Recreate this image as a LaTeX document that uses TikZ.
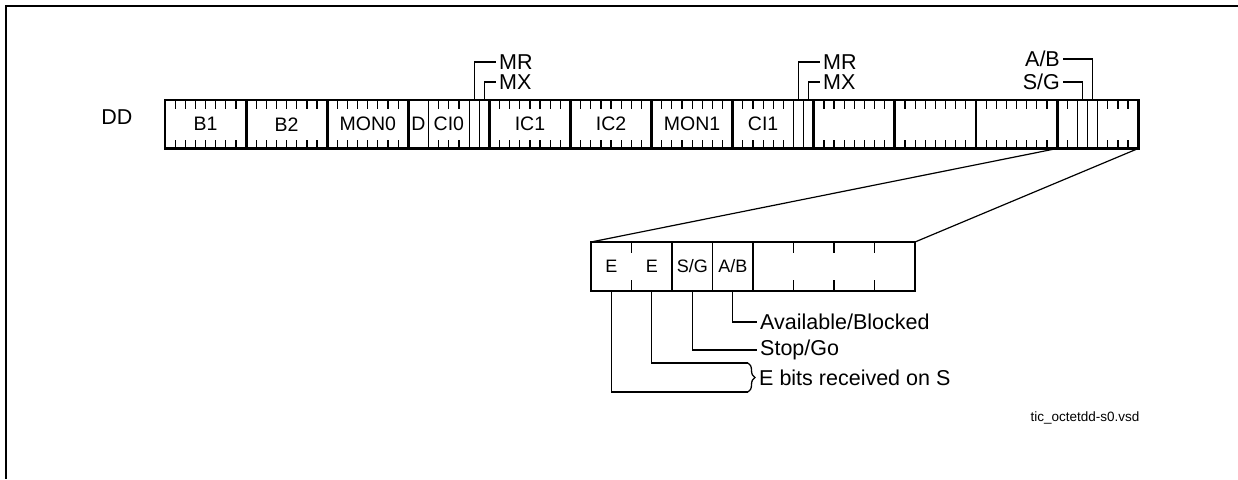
\documentclass[tikz,border=0pt]{standalone}
\usepackage{fontspec}
\setmainfont{Liberation Sans}
\usepackage{tikz}
\usetikzlibrary{positioning,calc,decorations.pathreplacing}
\newcommand{\bitw}{10.1375}
\newcommand{\zbitw}{40.5}

\begin{document}
\begin{tikzpicture}[x=1pt,y=-1pt,
  every node/.style={font=\fontsize{21.5}{24}\selectfont,inner sep=3pt},
  octet/.style={draw,line width=2.9pt,outer sep=0pt,inner sep=0pt,minimum width=81.1pt,minimum height=48.5pt,font=\fontsize{19.5}{22}\selectfont},
  field/.style={font=\fontsize{19.5}{22}\selectfont},
  zoombox/.style={draw,line width=2.9pt,outer sep=0pt,inner sep=0pt,minimum width=324pt,minimum height=49pt},
  bitlbl/.style={font=\fontsize{18}{20}\selectfont},
  tick/.style={line width=1.2pt},
  cell/.style={line width=1.2pt},
  lead/.style={line width=1.3pt}]
  \useasboundingbox (0,0) rectangle (1238,479);
  \draw[line width=1.4pt] (1238,6) -- (6,6) -- (6,479);

  % DD channel, twelve octets
  \node (dd) at (117,117) {DD};
  \node[octet] (o1) at (205.55,124.25) {B1};
  \node[octet,right=0pt of o1] (o2) {B2};
  \node[octet,right=0pt of o2] (o3) {MON0};
  \node[octet,right=0pt of o3] (o4) {};
  \node[octet,right=0pt of o4] (o5) {IC1};
  \node[octet,right=0pt of o5] (o6) {IC2};
  \node[octet,right=0pt of o6] (o7) {MON1};
  \node[octet,right=0pt of o7] (o8) {};
  \node[octet,right=0pt of o8] (o9) {};
  \node[octet,right=0pt of o9] (o10) {};
  \node[octet,right=0pt of o10] (o11) {};
  \node[octet,right=0pt of o11] (o12) {};
  \node[field] (d0) at ($(o4.west)+(\bitw,0)$) {D};
  \node[field] (ci0) at ($(o4.west)+(4*\bitw,0)$) {CI0};
  \node[field] (ci1) at ($(o8.west)+(3*\bitw,0)$) {CI1};

  % bit ticks
  \foreach \o in {1,2,3,5,6,7,8,9,10,11,12}
    \foreach \b in {1,...,7} {
      \draw[tick] ($(o\o.north west)+(\b*\bitw,0)$) -- ++(0,9);
      \draw[tick] ($(o\o.south west)+(\b*\bitw,0)$) -- ++(0,-9);
    }
  \foreach \b in {2,...,7} {
    \draw[tick] ($(o4.north west)+(\b*\bitw,0)$) -- ++(0,9);
    \draw[tick] ($(o4.south west)+(\b*\bitw,0)$) -- ++(0,-9);
  }
  \foreach \o/\b in {4/2,4/6,4/7,8/6,8/7,12/2,12/3,12/4}
    \draw[cell] ($(o\o.north west)+(\b*\bitw,0)$) -- ($(o\o.south west)+(\b*\bitw,0)$);

  % single bit leaders
  \coordinate (mr0) at ($(o4.north west)+(6.5*\bitw,0)$);
  \coordinate (mx0) at ($(o4.north west)+(7.5*\bitw,0)$);
  \coordinate (mr1) at ($(o8.north west)+(6.5*\bitw,0)$);
  \coordinate (mx1) at ($(o8.north west)+(7.5*\bitw,0)$);
  \coordinate (sg) at ($(o12.north west)+(2.5*\bitw,0)$);
  \coordinate (ab) at ($(o12.north west)+(3.5*\bitw,0)$);
  \node[anchor=west] (mrlbl0) at (496,62) {MR};
  \node[anchor=west] (mxlbl0) at (496,82) {MX};
  \node[anchor=west] (mrlbl1) at (820,62) {MR};
  \node[anchor=west] (mxlbl1) at (820,82) {MX};
  \node[anchor=east] (ablbl) at (1063,59) {A/B};
  \node[anchor=east] (sglbl) at (1063,82) {S/G};
  \draw[lead] (mr0) |- (mrlbl0);
  \draw[lead] (mx0) |- (mxlbl0);
  \draw[lead] (mr1) |- (mrlbl1);
  \draw[lead] (mx1) |- (mxlbl1);
  \draw[lead] (ab) |- (ablbl);
  \draw[lead] (sg) |- (sglbl);

  % last octet in detail
  \node[zoombox] (ex) at (753,266.5) {};
  \draw[cell] (o12.south west) -- (ex.north west);
  \draw[cell] (o12.south east) -- (ex.north east);
  \foreach \b in {1,5,6,7} {
    \draw[tick] ($(ex.north west)+(\b*\zbitw,0)$) -- ++(0,11);
    \draw[tick] ($(ex.south west)+(\b*\zbitw,0)$) -- ++(0,-11);
  }
  \foreach \b in {2,3,4}
    \draw[cell] ($(ex.north west)+(\b*\zbitw,0)$) -- ($(ex.south west)+(\b*\zbitw,0)$);
  \node[bitlbl] (eb1) at ($(ex.west)+(0.5*\zbitw,0)$) {E};
  \node[bitlbl] (eb2) at ($(ex.west)+(1.5*\zbitw,0)$) {E};
  \node[bitlbl] (eb3) at ($(ex.west)+(2.5*\zbitw,0)$) {S/G};
  \node[bitlbl] (eb4) at ($(ex.west)+(3.5*\zbitw,0)$) {A/B};

  \coordinate (ee0) at ($(ex.south west)+(0.5*\zbitw,0)$);
  \coordinate (ee1) at ($(ex.south west)+(1.5*\zbitw,0)$);
  \coordinate (sgx) at ($(ex.south west)+(2.5*\zbitw,0)$);
  \coordinate (abx) at ($(ex.south west)+(3.5*\zbitw,0)$);
  \coordinate (brtop) at (748,363);
  \coordinate (brbot) at (748,392);
  \node[anchor=west] (avail) at (757,322) {Available/Blocked};
  \node[anchor=west] (stopgo) at (757,350) {Stop/Go};
  \node[anchor=west] (ebits) at (756,377.5) {E bits received on S};
  \draw[lead] (abx) |- (avail);
  \draw[lead] (sgx) |- (stopgo);
  \draw[lead] (ee1) |- (brtop);
  \draw[lead] (ee0) |- (brbot);
  \draw[lead,decorate,decoration={brace,amplitude=7pt}] (brtop) -- (brbot);

  \node[font=\fontsize{13.5}{16}\selectfont,anchor=base] (fname) at (1085,421) {tic\_octetdd-s0.vsd};
\end{tikzpicture}
\end{document}
